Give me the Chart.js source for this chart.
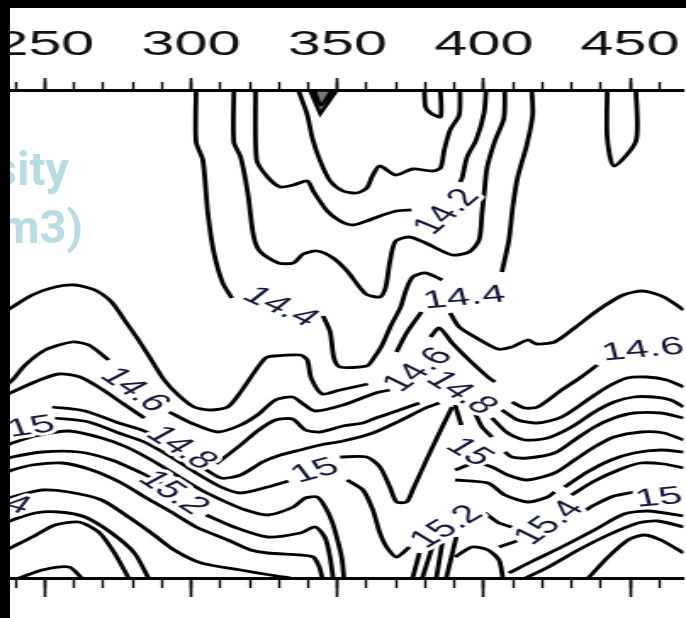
<!DOCTYPE html>
<html><head><meta charset="utf-8">
<script src="https://cdn.jsdelivr.net/npm/chart.js@4.4.1/dist/chart.umd.min.js"></script>
<style>
html,body{margin:0;padding:0;background:#fff;}
body{position:relative;width:686px;height:618px;overflow:hidden;}
#wrap{position:absolute;left:0;top:0;width:404px;height:618px;transform:scaleX(1.698);transform-origin:0 0;}
.band{position:absolute;background:#000;}
.ttl{position:absolute;font-family:Roboto,"Liberation Sans",Arial,sans-serif;font-weight:700;font-size:47px;line-height:47px;color:#b7dde3;white-space:nowrap;text-align:right;}
</style></head>
<body>
<div id="wrap"><canvas id="c"></canvas></div>
<div class="ttl" style="right:617px;top:145px;">Density</div>
<div class="ttl" style="right:603px;top:203px;">(kg/m3)</div>
<div class="band" style="left:0;top:0;width:10px;height:618px;"></div>
<div class="band" style="left:0;top:0;width:686px;height:8px;"></div>
<script>
const STRETCH = 1.698;
// axis (x = distance units, y = depth units, top = 0)
const xMin = 235.5, xMax = 468.3, yMin = 0, yMax = 488;
const majorStep = 50, minorStep = 10;

// contour polylines [x, depth]
const cA  = [[301.7,0],[301.7,52],[304.0,70],[305.7,123],[307.8,163],[310.8,193],[313.9,208]];
const cA2 = [[345.1,226],[347.5,242],[348.8,268],[350.9,277],[360.0,276],[362.4,268],[365.1,256],[368.2,236],[371.6,217],[373.3,201],[375.7,187],[380.1,183],[385.8,190]];
const cA3 = [[388.5,223],[391.6,237],[397.0,247],[404.8,259],[409.6,257],[415.0,250],[418.1,254],[424.2,252],[431.0,238],[439.1,220],[447.6,205],[454.4,201],[461.5,207],[468.3,220]];
const ca  = [[322.0,0],[322.4,70],[326.1,87],[330.5,97],[334.9,95],[339.7,91],[341.7,101],[346.5,121],[350.9,131],[355.3,135],[360.0,131],[364.5,126],[370.2,121],[375.3,120]];
const ca2 = [[391.9,92],[392.6,88],[394.3,67],[397.4,50],[400.1,23],[400.8,0]];
const cb  = [[336.6,0],[339.7,25],[341.4,48],[344.1,71],[347.5,91],[351.9,101],[356.6,103],[360.0,98],[362.1,85],[364.5,76],[369.9,85],[375.7,79],[382.4,81],[385.2,78],[386.5,60],[388.5,40],[391.6,25],[391.9,0]];
const cd  = [[314.6,0],[314.6,52],[316.9,67],[319.3,102],[321.4,147],[323.7,162],[329.8,173],[334.9,173],[338.3,164],[343.1,161],[348.5,168],[353.3,181],[359.7,204],[364.5,207],[366.5,197],[367.9,172],[369.9,151],[374.6,147],[380.1,153],[389.2,165],[395.0,162],[398.4,150],[399.4,123],[400.1,105],[401.1,78],[403.8,51],[406.9,28],[407.2,0]];
const ce  = [[416.4,0],[416.7,25],[414.7,55],[411.6,87],[409.9,117],[408.6,150],[406.2,182]];
const cU1 = [[379.7,0],[380.1,17],[381.8,23],[385.2,27],[385.2,0]];
const cU2 = [[442.2,0],[442.2,48],[444.5,76],[452.0,51],[452.0,0]];
const cT  = [[340.5,0],[344.1,24],[349.9,0]];
const cT2 = [[342.0,0],[344.3,15],[348.3,0]];

const cL1  = [[235.5,223],[238.9,217],[245.7,205],[253.5,197],[260.3,195],[267.1,200],[272.8,212],[277.2,230],[282.0,250],[286.4,270],[290.8,290],[295.6,305],[301.0,317],[306.8,320],[312.5,317],[316.9,302],[321.4,283],[325.4,268],[328.1,266],[337.3,265],[339.7,270],[341.0,288],[344.8,304],[350.9,300],[360.4,294]];
const cG1a = [[235.5,298],[238.9,290],[243.3,275],[250.1,260],[259.3,252],[265.0,255],[271.8,270]];
const cG1b = [[292.5,322],[300.0,333],[309.1,342],[316.9,335],[323.1,324],[328.8,310],[334.6,307],[338.3,314],[342.4,321],[351.9,315],[363.1,303],[367.9,300]];
const cB1a = [[235.5,307],[238.9,302],[247.4,291],[254.8,284],[262.0,287],[269.4,299],[276.9,314],[284.0,328]];
const cB1b = [[308.5,374],[316.9,355],[323.1,340],[328.8,330],[334.6,329],[339.0,340],[344.1,342],[351.9,336],[358.7,333],[363.1,328],[371.2,320],[378.0,313]];
const cB2  = [[252.5,317],[263.7,321],[275.2,333],[284.0,341],[293.2,357],[301.7,373],[310.2,388],[316.9,385],[324.4,372],[330.5,365],[337.3,360],[344.1,355],[351.9,351],[362.1,343],[371.2,331],[380.1,318],[384.8,313]];
const cB3  = [[253.5,328],[265.0,332],[275.2,343],[284.0,352],[293.2,367],[301.7,383],[310.2,397],[316.9,403],[326.1,397],[333.2,391]];
const cB4  = [[235.5,357],[238.9,353],[246.7,346],[258.2,341],[269.4,348],[277.9,357],[286.4,370],[294.9,385],[303.4,400],[311.9,412],[318.6,420],[326.1,425],[334.9,417],[339.0,408],[343.1,407],[345.8,417],[348.2,432],[350.2,452],[351.6,470],[352.2,488]];
const cB5a = [[235.5,370],[238.9,367],[249.1,362],[261.6,362],[272.8,370],[283.0,383],[289.8,393]];
const cB5b = [[305.1,425],[314.6,437],[326.1,447],[337.3,443],[342.4,437],[345.8,448],[347.5,468],[348.5,488]];
const cB6  = [[235.5,384],[238.9,380],[245.7,375],[255.9,373],[266.0,380],[276.2,393],[284.7,408],[293.2,422],[301.7,437],[312.5,450],[320.3,460],[326.1,463],[337.3,465],[341.7,467],[343.8,477],[344.8,488]];
const cB7  = [[235.5,411],[238.9,407],[249.1,400],[258.2,402],[269.4,410],[278.6,427],[286.4,443],[294.2,460],[303.4,473],[316.9,480],[327.1,485],[333.9,488]];
const cB8  = [[235.5,434],[238.9,430],[246.7,423],[254.8,422],[263.7,427],[272.8,443],[280.6,463],[285.4,488]];
const cB9  = [[235.5,462],[238.9,457],[245.7,447],[253.5,435],[261.6,432],[268.4,442],[273.8,463],[278.6,488]];
const cB10 = [[238.9,490],[241.3,488],[249.1,480],[258.2,477],[262.6,488]];

const cM3b = [[350.9,367],[360.0,367],[364.5,377],[367.9,397],[370.2,412],[373.6,412],[375.7,400],[380.4,370],[385.8,337],[389.2,317]];
const cMw  = [[353.3,390],[358.7,400],[362.1,420],[364.5,443],[366.8,457],[370.2,467],[374.6,457]];
const cMs1 = [[370.2,262],[373.6,243],[378.7,222]];
const cMs2 = [[381.8,247],[384.8,238],[389.2,253],[395.0,270],[401.4,287],[403.8,292]];
const cMs3 = [[390.2,315],[392.3,335]];
const cMs4 = [[397.0,323],[399.4,337],[402.8,347]];
const cD1 = [[378.0,463],[375.7,488]];
const cD2 = [[382.4,457],[379.0,488]];
const cD3 = [[385.8,453],[383.8,488]];
const cD4 = [[390.6,447],[387.2,488]];
const cHump = [[390.2,467],[396.0,457],[401.4,460],[405.2,470],[406.5,488]];

const cR2  = [[409.6,312],[414.0,318],[418.4,317],[426.6,300],[433.3,287],[438.8,275]];
const cR3  = [[406.2,320],[411.6,330],[418.4,333],[426.6,327],[435.4,310],[442.2,297],[448.9,288],[455.7,287],[462.5,290],[468.3,297]];
const cR4  = [[402.8,328],[408.2,343],[414.0,350],[421.8,348],[430.0,337],[437.8,322],[444.5,312],[451.3,307],[458.1,307],[463.9,310],[468.3,317]];
const cR5  = [[407.2,362],[409.6,367],[415.0,368],[424.2,363],[431.0,350],[437.8,337],[444.5,328],[451.3,323],[460.5,323],[468.3,328]];
const cR6  = [[390.2,380],[397.0,373],[402.8,377],[408.2,385],[415.0,390],[424.2,383],[431.0,370],[437.8,357],[444.5,347],[453.7,342],[461.5,343],[468.3,350]];
const cR7a = [[390.2,390],[401.4,393],[407.2,405],[415.0,412],[421.8,407],[424.2,402]];
const cR7b = [[427.6,397],[435.4,382],[443.5,370],[451.3,363],[460.5,360],[468.3,362]];
const cR8  = [[430.0,405],[437.8,391],[446.9,379],[453.7,373],[461.5,374],[468.3,378]];
const cR9a = [[400.4,423],[405.2,433],[409.6,437]];
const cR15a = [[405.2,457],[411.3,451]];
const cR15b = [[433.3,423],[437.8,415],[444.5,406],[451.3,402]];
const cR11 = [[408.6,483],[417.4,470],[426.6,457],[437.8,440],[447.9,424],[456.1,421],[468.3,426]];
const cR12 = [[414.3,488],[422.1,477],[432.3,460],[442.5,445],[452.7,433],[459.5,431],[468.3,437]];
const cRB  = [[435.7,488],[442.5,467],[449.3,450],[454.7,445],[460.5,450],[468.3,463]];

const contours = [cA,cA2,cA3,ca,ca2,cb,cd,ce,cU1,cU2,cT2,
  cL1,cG1a,cG1b,cB1a,cB1b,cB2,cB3,cB4,cB5a,cB5b,cB6,cB7,cB8,cB9,cB10,
  cM3b,cMw,cMs1,cMs2,cMs3,cMs4,cD1,cD2,cD3,cD4,cHump,
  cR2,cR3,cR4,cR5,cR6,cR7a,cR7b,cR8,cR9a,cR15a,cR15b,cR11,cR12,cRB];

// contour labels
const labelText  = ['14.2','14.4','14.4','14.6','14.8','15.2','15','15.4','15','14.6','14.8','15','15.2','15.4','15','14.6'];
const labelX     = [387.5,330.5,393.3,280.6,296.6,293.9,245.3,231.4,342.4,377.7,392.3,395.0,387.5,422.5,459.8,454.4];
const labelY     = [122,217,208,300,358,403,337,408,381,280,303,362,437,433,408,260];
const labelAngle = [-40,24,-5,34,32,33,-8,15,-15,-35,32,30,-30,-35,-5,-5];

const labelPlugin = {
  id:'contourLabels',
  afterDatasetsDraw(chart){
    const {ctx} = chart; const xs = chart.scales.x, ys = chart.scales.y;
    ctx.save();
    ctx.font = '25px "Liberation Sans", Arial, sans-serif';
    ctx.textAlign = 'center'; ctx.textBaseline = 'middle';
    ctx.lineJoin = 'round';
    labelText.forEach((t,i)=>{
      const px = xs.getPixelForValue(labelX[i]), py = ys.getPixelForValue(labelY[i]);
      const a = labelAngle[i]*Math.PI/180;
      const ai = Math.atan2(Math.sin(a), Math.cos(a)/STRETCH);
      ctx.save(); ctx.translate(px,py); ctx.rotate(ai);
      ctx.strokeStyle = '#fff'; ctx.lineWidth = 6; ctx.strokeText(t,0,0);
      ctx.fillStyle = '#16163a'; ctx.fillText(t,0,0);
      ctx.restore();
    });
    ctx.restore();
  }
};

function noPad(h){ return s => { s.height = h; s.paddingLeft = 0; s.paddingRight = 0; }; }
const axisCommon = {type:'linear', min:xMin, max:xMax};

const lineSets = contours.map(c => ({
  data: c.map(p => ({x:p[0], y:p[1]})),
  showLine:true, borderColor:'#000', borderWidth:2.8, pointRadius:0, tension:0.25, fill:false
}));
lineSets.push({
  data: cT.map(p => ({x:p[0], y:p[1]})),
  showLine:true, borderColor:'#000', borderWidth:2.4, pointRadius:0, tension:0,
  fill:'origin', backgroundColor:'rgba(30,30,30,0.6)'
});

new Chart(document.getElementById('c'), {
  type:'scatter',
  data:{datasets: lineSets},
  options:{
    responsive:true, maintainAspectRatio:false, animation:false,
    layout:{padding:0},
    plugins:{legend:{display:false}, tooltip:{enabled:false}},
    scales:{
      x:{...axisCommon, position:'top', weight:1, afterFit:noPad(90),
        ticks:{stepSize:majorStep, includeBounds:false, autoSkip:false, maxRotation:0, padding:12, color:'#111',
          font:{family:'"Liberation Sans", Arial, sans-serif', size:35}},
        grid:{drawOnChartArea:false, tickLength:12, tickWidth:1.6, tickColor:'#000'},
        border:{display:true, width:3, color:'#000'}},
      xm:{...axisCommon, position:'top', weight:0, afterFit:noPad(0),
        ticks:{display:false, stepSize:minorStep, includeBounds:false},
        grid:{drawOnChartArea:false, tickLength:8, tickWidth:1.4, tickColor:'#000'},
        border:{display:false}},
      xb:{...axisCommon, position:'bottom', weight:1, afterFit:noPad(40),
        ticks:{display:false, stepSize:majorStep, includeBounds:false},
        grid:{drawOnChartArea:false, tickLength:19, tickWidth:1.6, tickColor:'#000'},
        border:{display:true, width:3, color:'#000'}},
      xbm:{...axisCommon, position:'bottom', weight:0, afterFit:noPad(0),
        ticks:{display:false, stepSize:minorStep, includeBounds:false},
        grid:{drawOnChartArea:false, tickLength:10, tickWidth:1.4, tickColor:'#000'},
        border:{display:false}},
      y:{type:'linear', min:yMin, max:yMax, reverse:true, display:false}
    }
  },
  plugins:[labelPlugin]
});
</script>
</body></html>
